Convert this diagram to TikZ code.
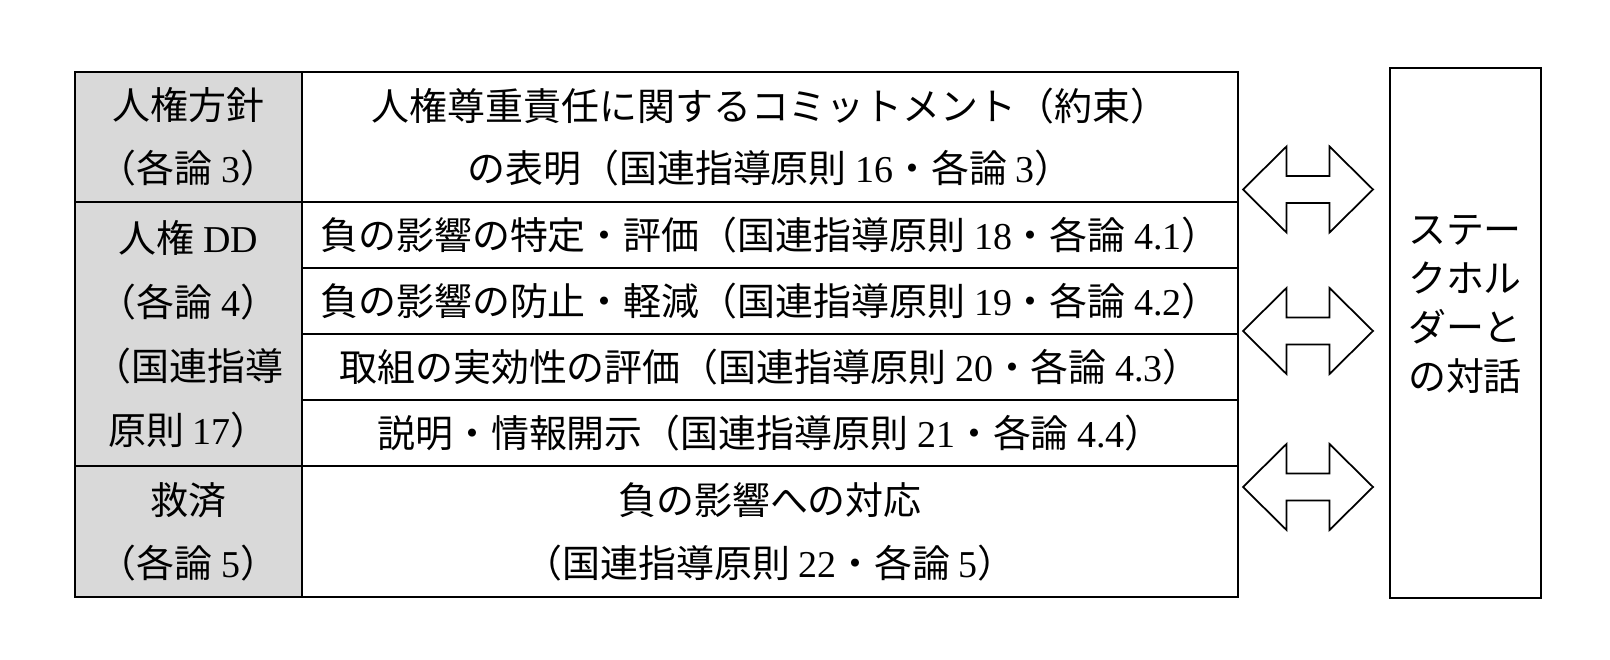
\documentclass[tikz,border=0pt]{standalone}
\usepackage{fontspec}
\setmainfont{Noto Sans CJK JP}
\newfontfamily\timesfont{Liberation Serif}
\newcommand\latn[1]{{\timesfont #1}}
\usetikzlibrary{positioning}
\definecolor{cellgray}{RGB}{217,217,217}

\begin{document}
\begin{tikzpicture}[
        font=\fontsize{21.6}{35.7}\selectfont,
        cell/.style={draw, line width=0.9pt, inner sep=0pt, outer sep=0pt, align=center, minimum width=18.72cm},
        head/.style={cell, fill=cellgray, minimum width=4.54cm},
        twoway/.style={draw, line width=1pt, line join=miter, fill=white}
    ]
        \useasboundingbox (0,0) rectangle (32.2,-13.2);

        % Left column
        \node[head, minimum height=2.6cm] (policy) at (3.77,-2.74) {人権方針\\（各論 \latn{3}）};
        \node[head, minimum height=5.28cm, font=\fontsize{21.6}{36.5}\selectfont] (dd) at (3.77,-6.68) {人権 \latn{DD}\\（各論 \latn{4}）\\（国連指導\\原則 \latn{17}）};
        \node[head, minimum height=2.62cm] (remedy) at (3.77,-10.63) {救済\\（各論 \latn{5}）};

        % Main column
        \node[cell, minimum height=2.6cm] (commit) at (15.4,-2.74) {人権尊重責任に関するコミットメント（約束）\\の表明（国連指導原則 \latn{16}・各論 \latn{3}）};
        \node[cell, minimum height=1.32cm] (identify) at (15.4,-4.70) {負の影響の特定・評価（国連指導原則 \latn{18}・各論 \latn{4.1}）};
        \node[cell, minimum height=1.32cm] (prevent) at (15.4,-6.02) {負の影響の防止・軽減（国連指導原則 \latn{19}・各論 \latn{4.2}）};
        \node[cell, minimum height=1.32cm] (track) at (15.4,-7.34) {取組の実効性の評価（国連指導原則 \latn{20}・各論 \latn{4.3}）};
        \node[cell, minimum height=1.32cm] (disclose) at (15.4,-8.66) {説明・情報開示（国連指導原則 \latn{21}・各論 \latn{4.4}）};
        \node[cell, minimum height=2.62cm] (respond) at (15.4,-10.63) {負の影響への対応\\（国連指導原則 \latn{22}・各論 \latn{5}）};

        % Stakeholder box
        \node[draw, line width=0.9pt, minimum width=3.02cm, minimum height=10.6cm] (stake) at (29.31,-6.66) {};
        \node[align=center, font=\fontsize{21.6}{28}\selectfont] (staketext) at (29.3,-6.09) {ステー\\クホル\\ダーと\\の対話};

        % Two-way arrows
        \foreach \y [count=\i] in {-3.79,-6.62,-9.74}
            \draw[twoway] (24.86,\y) coordinate (link\i) -- ++(0.87,0.86) -- ++(0,-0.59) -- ++(0.86,0) -- ++(0,0.59) -- ++(0.87,-0.86) -- ++(-0.87,-0.86) -- ++(0,0.59) -- ++(-0.86,0) -- ++(0,-0.59) -- cycle;

    \end{tikzpicture}
\end{document}
